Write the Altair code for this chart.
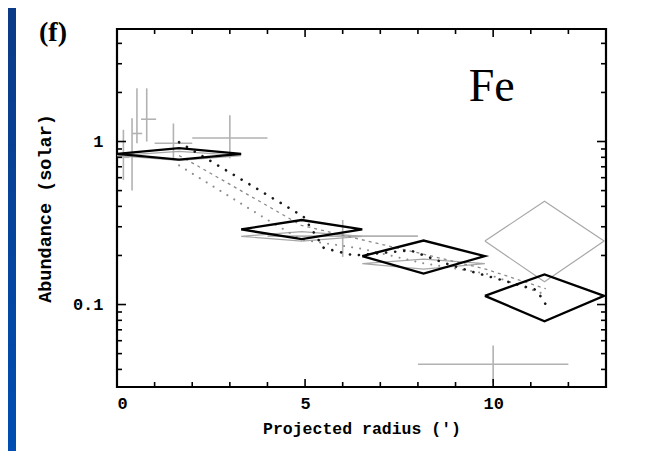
import altair as alt
import pandas as pd

# ---------------- data ----------------
# grey crosses (error bars): centre, x range, y range
cross_x    = [0.17, 0.40, 0.53, 0.79, 1.50, 3.00, 6.00, 10.00]
cross_xlo  = [0.00, 0.33, 0.40, 0.64, 1.00, 2.00, 4.00, 8.00]
cross_xhi  = [0.33, 0.47, 0.67, 1.04, 2.00, 4.00, 8.00, 12.00]
cross_y    = [0.80, 0.84, 1.12, 1.37, 0.975, 1.05, 0.263, 0.043]
cross_ylo  = [0.58, 0.50, 0.975, 1.00, 0.77, 0.79, 0.196, 0.033]
cross_yhi  = [1.18, 1.39, 2.12, 2.12, 1.29, 1.45, 0.33, 0.056]

# black diamonds: x range, centre value, upper and lower value
dia_xlo = [0.00, 3.30, 6.52, 9.78]
dia_xhi = [3.30, 6.52, 9.78, 12.95]
dia_y   = [0.84, 0.289, 0.198, 0.113]
dia_yhi = [0.91, 0.33, 0.247, 0.153]
dia_ylo = [0.775, 0.252, 0.155, 0.079]

# grey diamonds
gdia_xlo = [0.00, 3.30, 6.52, 9.78]
gdia_xhi = [3.30, 6.52, 9.78, 12.95]
gdia_y   = [0.82, 0.262, 0.178, 0.245]
gdia_yhi = [0.87, 0.28, 0.19, 0.43]
gdia_ylo = [0.765, 0.245, 0.165, 0.138]

# model curves
blk_x = [1.65, 2.59, 4.96, 5.50, 6.30, 7.80, 8.70, 9.40, 11.15, 11.40]
blk_y = [0.99, 0.735, 0.346, 0.222, 0.200, 0.215, 0.180, 0.160, 0.123, 0.100]
dsh_x = [1.65, 2.10, 3.88, 4.90, 6.50, 8.10, 9.80, 11.40]
dsh_y = [0.82, 0.718, 0.418, 0.306, 0.250, 0.205, 0.165, 0.125]
dot_x = [1.65, 1.71, 4.01, 4.90, 6.50, 8.10, 9.80, 11.40]
dot_y = [0.715, 0.70, 0.33, 0.25, 0.22, 0.18, 0.155, 0.115]

# axis ticks
x_major = [0, 5, 10]
x_minor = [1, 2, 3, 4, 6, 7, 8, 9, 11, 12]
y_major = [0.1, 1]
y_minor = [0.04, 0.05, 0.06, 0.07, 0.08, 0.09,
           0.2, 0.3, 0.4, 0.5, 0.6, 0.7, 0.8, 0.9, 2, 3, 4]

# label in the panel
fe_x = [9.96]
fe_y = [2.16]
fe_t = ["Fe"]
panel_label = "(f)"

# ---------------- build tables ----------------
W, H = 489, 358
xs = alt.Scale(domain=[0, 13], nice=False, zero=False)
ys = alt.Scale(type="log", domain=[0.0312, 4.9], nice=False)

crosses = pd.DataFrame(dict(x=cross_x, xlo=cross_xlo, xhi=cross_xhi,
                            y=cross_y, ylo=cross_ylo, yhi=cross_yhi))


def diamonds(xlo, xhi, yc, yhi, ylo):
    rows = []
    for i in range(len(xlo)):
        xc = (xlo[i] + xhi[i]) / 2
        pts = [(xlo[i], yc[i]), (xc, yhi[i]), (xhi[i], yc[i]), (xc, ylo[i]), (xlo[i], yc[i])]
        for k, (px, py) in enumerate(pts):
            rows.append(dict(id=i, k=k, x=px, y=py))
    return pd.DataFrame(rows)


dia = diamonds(dia_xlo, dia_xhi, dia_y, dia_yhi, dia_ylo)
gdia = diamonds(gdia_xlo, gdia_xhi, gdia_y, gdia_yhi, gdia_ylo)


def curve(xv, yv):
    return pd.DataFrame(dict(x=xv, y=yv, k=list(range(len(xv)))))


LABEL_FONT = "Liberation Mono"

xaxis = alt.Axis(values=x_major, format="d", title="Projected radius (')",
                 ticks=False, domain=False, grid=False,
                 labelFont=LABEL_FONT, labelFontSize=17, labelFontWeight="bold",
                 labelPadding=8, labelColor="black",
                 titleFont=LABEL_FONT, titleFontSize=16.5, titleFontWeight="bold",
                 titlePadding=9, titleColor="black")
yaxis = alt.Axis(values=y_major, format="~g", title="Abundance (solar)",
                 ticks=False, domain=False, grid=False,
                 labelFont=LABEL_FONT, labelFontSize=17, labelFontWeight="bold",
                 labelPadding=14, labelColor="black",
                 titleFont=LABEL_FONT, titleFontSize=18.5, titleFontWeight="bold",
                 titlePadding=18, titleColor="black")


def X(f):
    return alt.X(f, type="quantitative", scale=xs, axis=xaxis)


def Y(f):
    return alt.Y(f, type="quantitative", scale=ys, axis=yaxis)


GREY = "#b2b2b2"

# blue edge of the slide the figure sits on (decoration)
strip = alt.Chart(alt.Data(values=[{"s": 1}])).mark_rect(
    fill=alt.Gradient(gradient="linear",
                      stops=[alt.GradientStop(color="#0b3a86", offset=0),
                             alt.GradientStop(color="#004eb2", offset=1)],
                      x1=0, x2=0, y1=0, y2=1)
).encode(x=alt.value(-109), x2=alt.value(-101), y=alt.value(-21), y2=alt.value(422))

label_f = alt.Chart(alt.Data(values=[{"t": panel_label}])).mark_text(
    font="Liberation Serif", fontSize=28, fontWeight="bold", color="black",
    align="center", baseline="middle"
).encode(x=alt.value(-64), y=alt.value(4), text="t:N")

cross_v = alt.Chart(crosses).mark_rule(color=GREY, strokeWidth=1.6).encode(
    x=X("x"), y=Y("ylo"), y2="yhi:Q")
cross_h = alt.Chart(crosses).mark_rule(color=GREY, strokeWidth=1.6).encode(
    x=X("xlo"), x2="xhi:Q", y=Y("y"))

gdia_l = alt.Chart(gdia).mark_line(color="#a8a8a8", strokeWidth=1.2).encode(
    x=X("x"), y=Y("y"), detail="id:N", order="k:Q")

blk_l = alt.Chart(curve(blk_x, blk_y)).mark_line(
    color="#1a1a1a", strokeWidth=2.6, strokeDash=[0.1, 9], strokeCap="round").encode(
    x=X("x"), y=Y("y"), order="k:Q")
dsh_l = alt.Chart(curve(dsh_x, dsh_y)).mark_line(
    color="#8a8a8a", strokeWidth=1.3, strokeDash=[3, 4]).encode(
    x=X("x"), y=Y("y"), order="k:Q")
dot_l = alt.Chart(curve(dot_x, dot_y)).mark_line(
    color="#8f8f8f", strokeWidth=2.0, strokeDash=[0.1, 8], strokeCap="round").encode(
    x=X("x"), y=Y("y"), order="k:Q")

dia_l = alt.Chart(dia).mark_line(color="black", strokeWidth=2.3).encode(
    x=X("x"), y=Y("y"), detail="id:N", order="k:Q")


# inward tick marks on all four sides
def xticks(vals, length):
    d = pd.DataFrame(dict(v=vals))
    bot = alt.Chart(d).mark_rule(color="black", strokeWidth=1.6).encode(
        x=X("v"), y=alt.value(H), y2=alt.value(H - length))
    top = alt.Chart(d).mark_rule(color="black", strokeWidth=1.6).encode(
        x=X("v"), y=alt.value(0), y2=alt.value(length))
    return [bot, top]


def yticks(vals, length):
    d = pd.DataFrame(dict(v=vals))
    left = alt.Chart(d).mark_rule(color="black", strokeWidth=1.6).encode(
        y=Y("v"), x=alt.value(0), x2=alt.value(length))
    right = alt.Chart(d).mark_rule(color="black", strokeWidth=1.6).encode(
        y=Y("v"), x=alt.value(W), x2=alt.value(W - length))
    return [left, right]


ticks = xticks(x_major, 8) + xticks(x_minor, 5) + yticks(y_major, 9) + yticks(y_minor, 5)

fe = alt.Chart(pd.DataFrame(dict(x=fe_x, y=fe_y, t=fe_t))).mark_text(
    font="Liberation Serif", fontSize=46, color="black", align="center", baseline="middle"
).encode(x=X("x"), y=Y("y"), text="t:N")

chart = alt.layer(
    cross_v, cross_h, gdia_l, dot_l, dsh_l, blk_l, dia_l, *ticks, fe, strip, label_f
).properties(
    width=W, height=H,
    padding={"left": 109, "top": 21, "right": 47, "bottom": 64},
    autosize=alt.AutoSizeParams(type="none"),
    background="white",
).configure_view(stroke="black", strokeWidth=2.2, fill="white")

chart.save("out.html", embed_options={"renderer": "svg", "actions": False})
